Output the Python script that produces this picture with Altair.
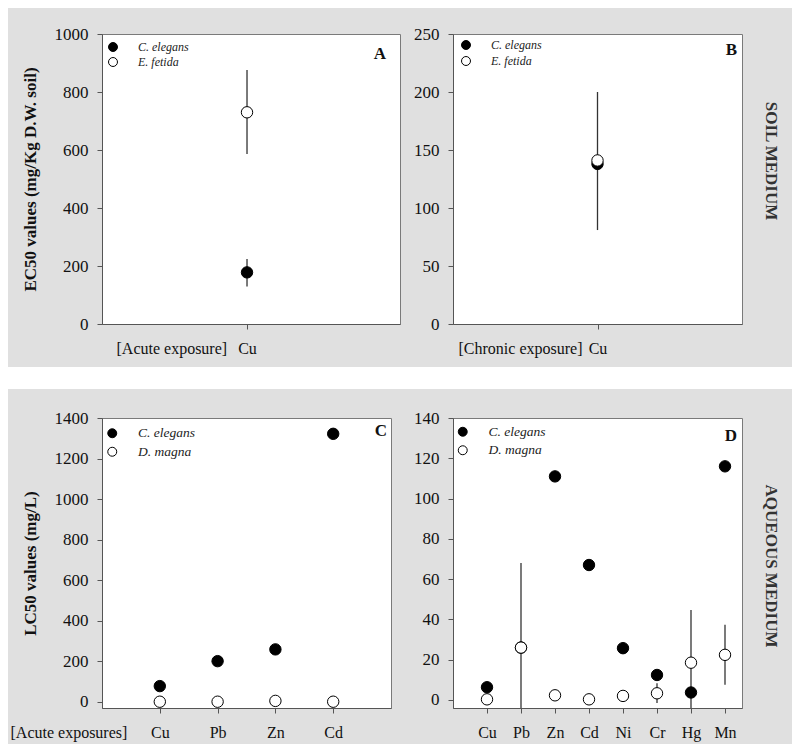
import altair as alt
import pandas as pd

FONT = "Liberation Serif"
BG = "#e0e0e0"

# ---------------- data ----------------
# Panel A: soil, acute exposure
cats_A = ["Cu"]
A_ce = [178]
A_ce_lo = [129]
A_ce_hi = [224]
A_ef = [730]
A_ef_lo = [586]
A_ef_hi = [876]

# Panel B: soil, chronic exposure
cats_B = ["Cu"]
B_ce = [138]
B_ce_lo = [81]
B_ce_hi = [200]
B_ef = [141]
B_ef_lo = [None]
B_ef_hi = [None]

# Panel C: aqueous, acute exposures
cats_C = ["Cu", "Pb", "Zn", "Cd"]
C_ce = [78, 201, 259, 1322]
C_dm = [1, 1, 5, 1]

# Panel D: aqueous
cats_D = ["Cu", "Pb", "Zn", "Cd", "Ni", "Cr", "Hg", "Mn"]
D_ce = [6.3, 26, 111, 67, 25.7, 12.4, 3.7, 116]
D_dm = [0.3, 26, 2.3, 0.3, 2.0, 3.3, 18.5, 22.4]
D_dm_lo = [None, -16, None, None, None, -1.5, -8, 7.5]
D_dm_hi = [None, 68, None, None, None, 8.3, 44.7, 37.3]

NONE4 = [None] * 4
NONE8 = [None] * 8

# white separator band between the two figure rows (spacer-local pixel units)
band_x = [-94]
band_x2 = [690]


def panel(cats, series, width, height, xdom, ydom, yticks, ytitle, xtitle,
          xtitle_x, leg_xy, leg_font, leg_row_pad, letter, letter_dx, letter_dy,
          right_title=None, right_dx=0):
    rows = []
    for name, vals, los, his in series:
        for i, (v, lo, hi) in enumerate(zip(vals, los, his)):
            rows.append({"species": name, "idx": i + 1, "val": v, "lo": lo, "hi": hi})
    df = pd.DataFrame(rows)
    names = [s[0] for s in series]
    label_expr = "[" + ",".join("'%s'" % c for c in cats) + "][datum.value-1]"

    xa = dict(values=list(range(1, len(cats) + 1)), labelExpr=label_expr, grid=False,
              tickSize=5, labelPadding=11, labelFontSize=16)
    if xtitle is not None:
        xa.update(title=xtitle, titleX=xtitle_x, titleY=16, titleAlign="left",
                  titleAnchor="start", titleBaseline="top", titleFontWeight="normal",
                  titleFontSize=16)
    else:
        xa.update(title=None)
    xaxis = alt.Axis(**xa)

    ya = dict(values=yticks, format="d", grid=False, tickSize=5, labelPadding=9,
              labelFontSize=17, title=ytitle, titlePadding=14.5, titleFontSize=17,
              titleFontWeight="bold")
    if ytitle is None:
        ya.update(title=None)
        ya.pop("titlePadding")
    yaxis = alt.Axis(**ya)

    xs = alt.Scale(domain=xdom, nice=False, zero=False)
    ys = alt.Scale(domain=ydom, nice=False, zero=False)

    base = alt.Chart(df)
    rules = base.transform_filter("isValid(datum.lo)").mark_rule(
        color="#333333", strokeWidth=1.3, clip=True
    ).encode(
        x=alt.X("idx:Q", scale=xs, axis=xaxis),
        y=alt.Y("lo:Q", scale=ys, axis=yaxis),
        y2="hi:Q",
    )
    pts = base.mark_point(filled=True, size=130, stroke="black", strokeWidth=1,
                          opacity=1).encode(
        x=alt.X("idx:Q", scale=xs, axis=xaxis),
        y=alt.Y("val:Q", scale=ys, axis=yaxis),
        fill=alt.Fill("species:N", scale=alt.Scale(domain=names, range=["black", "white"]),
                      legend=alt.Legend(orient="none", legendX=leg_xy[0], legendY=leg_xy[1],
                                        title=None, labelFont=FONT, labelFontStyle="italic",
                                        labelFontSize=leg_font, labelColor="#222",
                                        symbolSize=80, symbolType="circle",
                                        symbolStrokeColor="black", symbolStrokeWidth=1,
                                        symbolOpacity=1,
                                        rowPadding=leg_row_pad, labelOffset=19, padding=0)),
    )
    ldf = pd.DataFrame({"t": [letter], "x": [xdom[1]], "y": [ydom[1]]})
    let = alt.Chart(ldf).mark_text(align="right", baseline="top", dx=letter_dx, dy=letter_dy,
                                   font=FONT, fontWeight="bold", fontSize=17,
                                   color="#111").encode(
        x=alt.X("x:Q", scale=xs, axis=xaxis),
        y=alt.Y("y:Q", scale=ys, axis=yaxis),
        text="t:N",
    )
    ch = alt.layer(rules, pts, let).properties(width=width, height=height)
    if right_title is not None:
        ch = ch.properties(title=alt.TitleParams(
            text=right_title, orient="right", anchor="middle", frame="group", angle=90,
            font=FONT, fontSize=17, fontWeight="bold", color="#333333", offset=20,
            dx=right_dx))
    return ch


A = panel(cats_A,
          [("C. elegans", A_ce, A_ce_lo, A_ce_hi), ("E. fetida", A_ef, A_ef_lo, A_ef_hi)],
          298, 290, [0, 2.055], [0, 1000], [0, 200, 400, 600, 800, 1000],
          "EC50 values (mg/Kg D.W. soil)", "[Acute exposure]", 14,
          (5, 7), 12, 1, "A", -14, 12)
B = panel(cats_B,
          [("C. elegans", B_ce, B_ce_lo, B_ce_hi), ("E. fetida", B_ef, B_ef_lo, B_ef_hi)],
          289, 290, [0, 2], [0, 250], [0, 50, 100, 150, 200, 250],
          None, "[Chronic exposure]", 5,
          (7, 5), 12, 2, "B", -5, 8, right_title="SOIL MEDIUM", right_dx=-18)
C = panel(cats_C,
          [("C. elegans", C_ce, NONE4, NONE4), ("D. magna", C_dm, NONE4, NONE4)],
          289, 290, [0, 5], [-30, 1400], [0, 200, 400, 600, 800, 1000, 1200, 1400],
          "LC50 values (mg/L)", "[Acute exposures]", -92,
          (3.5, 8.5), 13.5, 3.5, "C", -4, 5)
D = panel(cats_D,
          [("C. elegans", D_ce, NONE8, NONE8), ("D. magna", D_dm, D_dm_lo, D_dm_hi)],
          289, 290, [0, 8.5], [-4, 140], [0, 20, 40, 60, 80, 100, 120, 140],
          None, None, 0,
          (3, 7), 13.5, 3.5, "D", -5, 10, right_title="AQUEOUS MEDIUM", right_dx=3)

row1 = alt.hconcat(A, B, spacing=12).resolve_scale(x="independent", y="independent",
                                                  fill="independent").resolve_legend(
    fill="independent")
row2 = alt.hconcat(C, D, spacing=21).resolve_scale(x="independent", y="independent",
                                                  fill="independent").resolve_legend(
    fill="independent")

band = pd.DataFrame({"x": band_x, "x2": band_x2})
spacer = alt.Chart(band).mark_rect(color="white", strokeWidth=0).encode(
    x=alt.X("x:Q", scale=alt.Scale(domain=[0, 690], nice=False, zero=False),
            axis=alt.Axis(values=[0], domain=False, ticks=False, grid=False,
                          labelOpacity=0, labelFontSize=8, labelPadding=1, title=None)),
    x2="x2:Q",
).properties(width=690, height=22,
             view=alt.ViewBackground(fill="white", stroke="white", strokeWidth=0))

chart = alt.vconcat(row1, spacer, row2, spacing=10).resolve_scale(
    x="independent", y="independent", fill="independent"
).resolve_legend(fill="independent").properties(
    background=BG,
    padding={"left": 0, "top": 16, "right": 0, "bottom": 3},
).configure_view(
    fill="white", stroke="#7a7a7a", strokeWidth=1
).configure_axis(
    labelFont=FONT, titleFont=FONT, labelColor="#111111", titleColor="#111111",
    domainColor="#555555", tickColor="#555555", domainWidth=1, tickWidth=1
)

chart.save("out.html", embed_options={"renderer": "svg", "actions": False})
